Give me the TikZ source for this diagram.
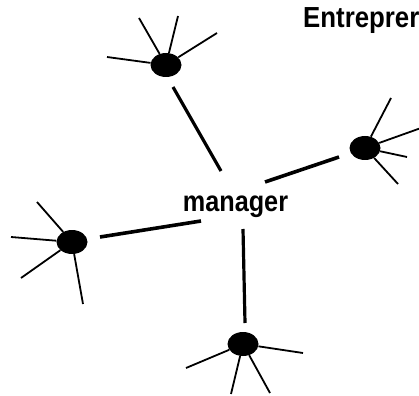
\documentclass[tikz,border=0pt]{standalone}
\usepackage{fontspec}
\usepackage{graphicx}
\setmainfont{Liberation Sans}
\usetikzlibrary{shapes.geometric}
\begin{document}
\begin{tikzpicture}[x=1pt,y=-1pt,
  blob/.style={ellipse,fill=black,draw=none,minimum width=31pt,minimum height=24pt,inner sep=0pt},
  spoke/.style={line width=1.8pt},
  link/.style={line width=3.6pt},
  lbl/.style={inner sep=0pt,font=\fontsize{29}{29}\selectfont\bfseries}]
\useasboundingbox (0,0) rectangle (419,395);
\fill[white] (0,0) rectangle (419,395);
% text
\node[lbl,anchor=base] (mgr) at (235.5,211) {\scalebox{0.87}[1]{manager}};
\node[lbl,anchor=base west] (ent) at (303,28) {\scalebox{0.89}[1]{Entreprer}};
% blobs
\node[blob] (t) at (166,65) {};
\node[blob] (r) at (365,148) {};
\node[blob] (l) at (72,242) {};
\node[blob] (b) at (243,344) {};
% spoke ends
\coordinate (t1) at (107,57);
\coordinate (t2) at (139,18);
\coordinate (t3) at (178,16);
\coordinate (t4) at (217,33);
\coordinate (r1) at (391,98);
\coordinate (r2) at (421,128);
\coordinate (r3) at (407,157);
\coordinate (r4) at (398,184);
\coordinate (l1) at (37,202);
\coordinate (l2) at (11,237);
\coordinate (l3) at (21,278);
\coordinate (l4) at (83,304);
\coordinate (b1) at (186,368);
\coordinate (b2) at (303,353);
\coordinate (b3) at (231,394);
\coordinate (b4) at (270,393);
\foreach \n in {t,r,l,b}{
  \foreach \i in {1,2,3,4}{
    \draw[spoke] (\n) -- (\n\i);
  }
}
% connector ends
\coordinate (ta) at (173,87);
\coordinate (tb) at (221,171);
\coordinate (ra) at (339,157);
\coordinate (rb) at (265,182);
\coordinate (la) at (100,237);
\coordinate (lb) at (201,221);
\coordinate (ba) at (243,229);
\coordinate (bb) at (245,323);
\draw[link,line width=3.2pt] (ta) -- (tb);
\draw[link] (ra) -- (rb);
\draw[link] (la) -- (lb);
\draw[link,line width=3.2pt] (ba) -- (bb);
\end{tikzpicture}
\end{document}
